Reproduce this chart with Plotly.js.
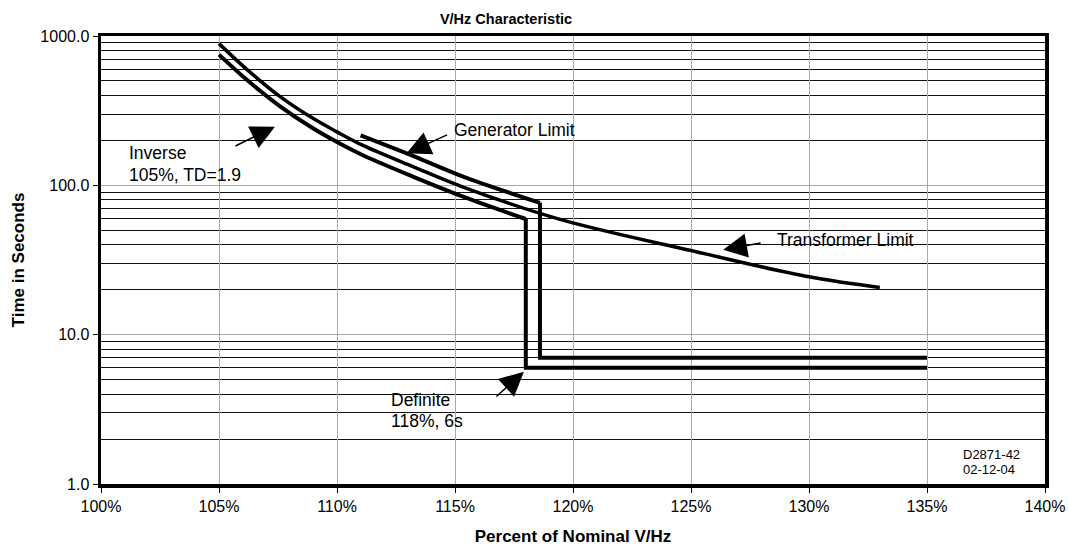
<!DOCTYPE html>
<html>
<head>
<meta charset="utf-8">
<script src="https://cdn.plot.ly/plotly-3.0.1.min.js"></script>
<style>html,body{margin:0;padding:0;background:#fff}#chart{width:1068px;height:546px}</style>
</head>
<body>
<div id="chart"></div>
<script>
// Inverse characteristic (105%, TD=1.9)
const inverseX = [105, 106.14, 107.56, 108.98, 110, 111.1, 113.24, 115.37, 118];
const inverseY = [750, 515, 341, 241, 195, 159, 114, 83.6, 59.5];
// Definite time step (118%, 6s)
const definiteX = [118, 118, 135];
const definiteY = [59.5, 6, 6];
// Transformer limit
const transformerX = [105, 106.14, 107.56, 108.98, 110, 111.1, 113.24, 115.37, 119.45, 125, 130, 133];
const transformerY = [889, 605, 396, 281, 228, 185, 133, 97, 59.2, 36.6, 24.4, 20.7];
// Generator limit
const generatorX = [111.0, 113.24, 115.37, 118.6];
const generatorY = [216, 157, 114, 76.4];
const generatorStepX = [118.6, 118.6, 135];
const generatorStepY = [76.4, 7, 7];

const yTickVals = [1, 10, 100, 1000];
const yTickText = ["1.0", "10.0", "100.0", "1000.0"];
const xTickVals = [100, 105, 110, 115, 120, 125, 130, 135, 140];
const xTickText = ["100%", "105%", "110%", "115%", "120%", "125%", "130%", "135%", "140%"];

const FONT = "Liberation Sans, Arial, sans-serif";
const lineStyle = (w) => ({color: "#000", width: w});

const traces = [
  {x: transformerX, y: transformerY, mode: "lines", line: Object.assign(lineStyle(3.5), {shape: "spline", smoothing: 1}), hoverinfo: "skip"},
  {x: inverseX, y: inverseY, mode: "lines", line: Object.assign(lineStyle(4), {shape: "spline", smoothing: 1}), hoverinfo: "skip"},
  {x: definiteX, y: definiteY, mode: "lines", line: lineStyle(4), hoverinfo: "skip"},
  {x: generatorX, y: generatorY, mode: "lines", line: Object.assign(lineStyle(4), {shape: "spline", smoothing: 1}), hoverinfo: "skip"},
  {x: generatorStepX, y: generatorStepY, mode: "lines", line: lineStyle(4), hoverinfo: "skip"}
];

const txt = (x, y, text, size, extra) => Object.assign({
  xref: "paper", yref: "paper", x: x, y: y, text: text, showarrow: false,
  xanchor: "left", yanchor: "middle", align: "left",
  font: {family: FONT, size: size, color: "#000"}
}, extra || {});

const W = 944, H = 448, L = 101, T = 36;
const px = (p) => (p - L) / W;
const py = (p) => 1 - (p - T) / H;

const arrow = (x, y, ax, ay) => ({
  xref: "x", yref: "y", x: x, y: Math.log10(y), text: "", showarrow: true,
  ax: ax, ay: ay, axref: "pixel", ayref: "pixel",
  arrowhead: 2, arrowsize: 3.2, arrowwidth: 1.5, arrowcolor: "#000", standoff: 0
});

const annotations = [
  txt(px(127), py(153), "Inverse", 17.5),
  txt(px(127), py(175), "105%, TD=1.9", 17.5),
  txt(px(452), py(130), "Generator Limit", 17.5),
  txt(px(775), py(240), "Transformer Limit", 17.5),
  txt(px(389), py(400), "Definite", 17.5),
  txt(px(389), py(421), "118%, 6s", 17.5),
  txt(px(961), py(454), "D2871-42", 13),
  txt(px(961), py(469), "02-12-04", 13),
  arrow(107.37, 247, -41, 20),
  arrow(112.95, 164, 42, -19),
  arrow(126.36, 37, 39, -7),
  arrow(117.92, 5.64, -29, 26)
];

const layout = {
  width: 1068, height: 546,
  margin: {l: L, r: 1068 - L - W, t: T, b: 546 - T - H},
  paper_bgcolor: "#fff", plot_bgcolor: "#fff",
  showlegend: false,
  font: {family: FONT, color: "#000", size: 16},
  title: {text: "<b>V/Hz Characteristic</b>", font: {family: FONT, size: 14.5, color: "#000"},
          xref: "container", x: 506 / 1068, xanchor: "center", yref: "container", y: 1 - 19 / 546, yanchor: "middle"},
  xaxis: {
    range: [100, 140], tickvals: xTickVals, ticktext: xTickText,
    showgrid: true, gridcolor: "#aaaaaa", gridwidth: 1,
    showline: true, linecolor: "#000", linewidth: 3.5, mirror: true,
    ticks: "outside", ticklen: 5, tickcolor: "#000", tickwidth: 1,
    tickfont: {family: FONT, size: 16, color: "#000"},
    zeroline: false, fixedrange: true,
    title: {text: "<b>Percent of Nominal V/Hz</b>", font: {family: FONT, size: 17, color: "#000"}, standoff: 17}
  },
  yaxis: {
    type: "log", range: [0, 3], tickvals: yTickVals, ticktext: yTickText,
    showgrid: true, gridcolor: "#aaaaaa", gridwidth: 1,
    minor: {dtick: "D1", showgrid: true, gridcolor: "#111", gridwidth: 1, ticks: ""},
    showline: true, linecolor: "#000", linewidth: 3.5, mirror: true,
    ticks: "outside", ticklen: 5, tickcolor: "#000", tickwidth: 1,
    tickfont: {family: FONT, size: 16, color: "#000"},
    zeroline: false, fixedrange: true,
    title: {text: "<b>Time in Seconds</b>", font: {family: FONT, size: 17, color: "#000"}, standoff: 12}
  },
  annotations: annotations
};

Plotly.newPlot("chart", traces, layout, {staticPlot: true, displayModeBar: false});
</script>
</body>
</html>
